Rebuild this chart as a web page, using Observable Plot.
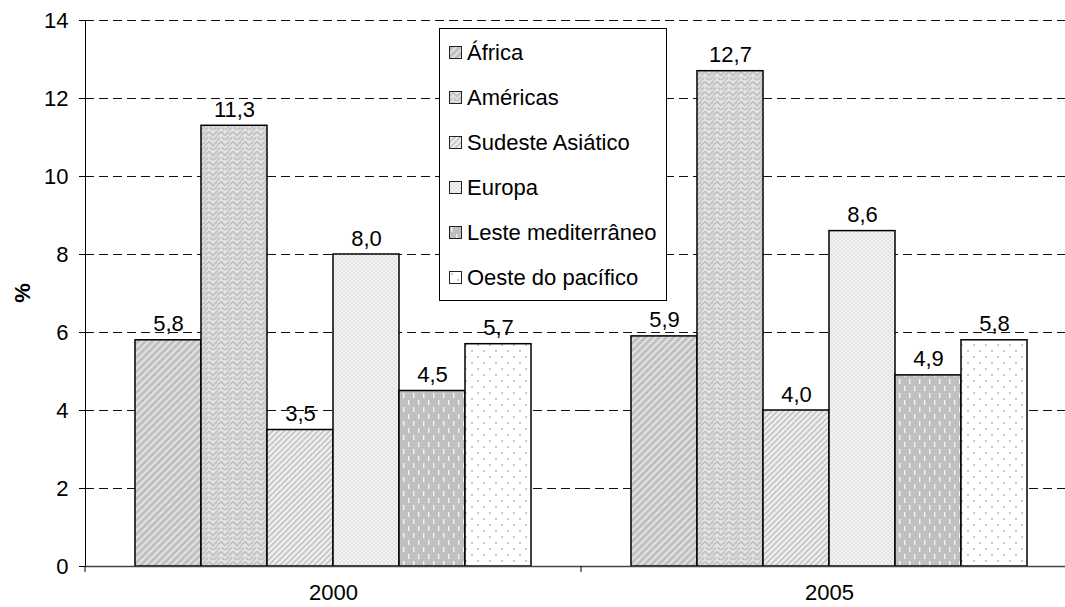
<!DOCTYPE html>
<html>
<head>
<meta charset="utf-8">
<script src="https://cdn.jsdelivr.net/npm/d3@7"></script>
<script src="https://cdn.jsdelivr.net/npm/@observablehq/plot@0.6"></script>
<style>
  html, body { margin: 0; padding: 0; background: #fff; }
  #wrap { position: relative; width: 1065px; height: 607px; font-family: "Liberation Sans", Arial, sans-serif; }
  #legend {
    position: absolute; left: 439px; top: 28px; width: 228px; height: 273px;
    box-sizing: border-box; border: 1px solid #000; background: #fff;
    font-size: 22px; color: #000; padding-top: 1px;
  }
  #legend .item { height: 45px; display: flex; align-items: center; padding-left: 9px; white-space: nowrap; }
  #legend svg { margin-right: 5px; flex: none; }
</style>
</head>
<body>
<svg width="0" height="0" style="position:absolute">
  <defs>
    <pattern id="p-africa" width="5" height="5" patternUnits="userSpaceOnUse" patternTransform="rotate(45)">
      <rect width="5" height="5" fill="#c0c0c0"/>
      <rect width="1.7" height="5" fill="#e8e8e8"/>
    </pattern>
    <pattern id="p-americas" width="12" height="10" patternUnits="userSpaceOnUse">
      <rect width="12" height="10" fill="#c4c4c4"/>
      <path d="M0,8 L4,4 L8,8 L12,4 M0,3 L4,-1 L8,3 L12,-1 M4,4 L4,8 M8,-1 L8,3 M0,13 L4,9 L8,13 L12,9" stroke="#e6e6e6" stroke-width="1.5" fill="none"/>
    </pattern>
    <pattern id="p-sea" width="4" height="4" patternUnits="userSpaceOnUse" patternTransform="rotate(45)">
      <rect width="4" height="4" fill="#f2f2f2"/>
      <rect width="1.8" height="4" fill="#c4c4c4"/>
    </pattern>
    <pattern id="p-europa" width="4" height="4" patternUnits="userSpaceOnUse">
      <rect width="4" height="4" fill="#f4f4f4"/>
      <rect x="0.5" y="0.5" width="1.2" height="1.2" fill="#c4c4c4"/>
      <rect x="2.5" y="2.5" width="1.2" height="1.2" fill="#c4c4c4"/>
    </pattern>
    <pattern id="p-leste" width="10" height="14" patternUnits="userSpaceOnUse">
      <rect width="10" height="14" fill="#c0c0c0"/>
      <rect x="2" y="1" width="1.4" height="5" fill="#f4f4f4"/>
      <rect x="7" y="8" width="1.4" height="5" fill="#f4f4f4"/>
    </pattern>
    <pattern id="p-oeste" width="12" height="12" patternUnits="userSpaceOnUse">
      <rect width="12" height="12" fill="#ffffff"/>
      <circle cx="3" cy="3" r="1" fill="#b8b8b8"/>
      <circle cx="9" cy="9" r="1" fill="#b8b8b8"/>
    </pattern>
  </defs>
</svg>
<div id="wrap">
  <div id="chart"></div>
  <div id="legend"></div>
</div>
<script>
// Regional percentages for 2000 and 2005
const years = ["2000", "2005"];
const regions = ["África", "Américas", "Sudeste Asiático", "Europa", "Leste mediterrâneo", "Oeste do pacífico"];
const values2000 = [5.8, 11.3, 3.5, 8.0, 4.5, 5.7];
const values2005 = [5.9, 12.7, 4.0, 8.6, 4.9, 5.8];
const yTicks = [0, 2, 4, 6, 8, 10, 12, 14];
const fills = ["url(#p-africa)", "url(#p-americas)", "url(#p-sea)", "url(#p-europa)", "url(#p-leste)", "url(#p-oeste)"];

const rows = [];
[values2000, values2005].forEach((vals, i) => {
  vals.forEach((v, j) => rows.push({year: years[i], region: regions[j], value: v}));
});

const fmt = v => v.toFixed(1).replace(".", ",");
const font = "'Liberation Sans', Arial, sans-serif";

const chart = Plot.plot({
  width: 1065,
  height: 607,
  marginLeft: 84,
  marginRight: 0,
  marginTop: 20,
  marginBottom: 41,
  style: {fontFamily: font, fontSize: "22px", color: "#000", background: "transparent"},
  fx: {domain: years, range: [84, 1077], padding: 0, label: null, axis: "bottom", tickSize: 0, tickPadding: 18},
  x: {domain: regions, paddingInner: 0, paddingOuter: 0.75, axis: null},
  y: {domain: [0, 14], ticks: yTicks, tickSize: 6, tickPadding: 11, label: null, line: true},
  color: {domain: regions, range: fills},
  marks: [
    Plot.ruleY(yTicks.filter(d => d > 0), {stroke: "#111", strokeWidth: 1, strokeDasharray: "9,5"}),
    Plot.barY(rows, {fx: "year", x: "region", y: "value", fill: "region", stroke: "#000", strokeWidth: 1.5}),
    Plot.ruleY([0], {stroke: "#444", strokeWidth: 1.5}),
    Plot.text(rows, {fx: "year", x: "region", y: "value", text: d => fmt(d.value), dy: -16, fontSize: 22, fill: "#000"})
  ]
});

document.getElementById("chart").appendChild(chart);

const fx = chart.scale("fx");
const y = chart.scale("y");
const y0 = y.apply(0);
const svg = d3.select(chart);

// y-axis title, centred on the plot height
const yMid = (y.apply(0) + y.apply(14)) / 2;
svg.append("text")
  .attr("transform", `translate(22,${yMid}) rotate(-90)`)
  .attr("text-anchor", "middle")
  .attr("dy", "0.35em")
  .attr("font-weight", "bold")
  .attr("font-size", 22)
  .attr("fill", "#000")
  .text("%");

// category boundary ticks below the baseline
const bounds = years.map(yr => fx.apply(yr)).concat([fx.apply(years[years.length - 1]) + fx.step]);
svg.append("g")
  .selectAll("line").data(bounds).join("line")
  .attr("x1", d => d).attr("x2", d => d)
  .attr("y1", y0).attr("y2", y0 + 6)
  .attr("stroke", "#000");

// legend with pattern swatches
const legend = d3.select("#legend");
regions.forEach((r, i) => {
  const item = legend.append("div").attr("class", "item");
  const sw = item.append("svg").attr("width", 13).attr("height", 13);
  sw.append("rect").attr("x", 0.5).attr("y", 0.5).attr("width", 12).attr("height", 12)
    .attr("fill", fills[i]).attr("stroke", "#222");
  item.append("span").text(r);
});
</script>
</body>
</html>
